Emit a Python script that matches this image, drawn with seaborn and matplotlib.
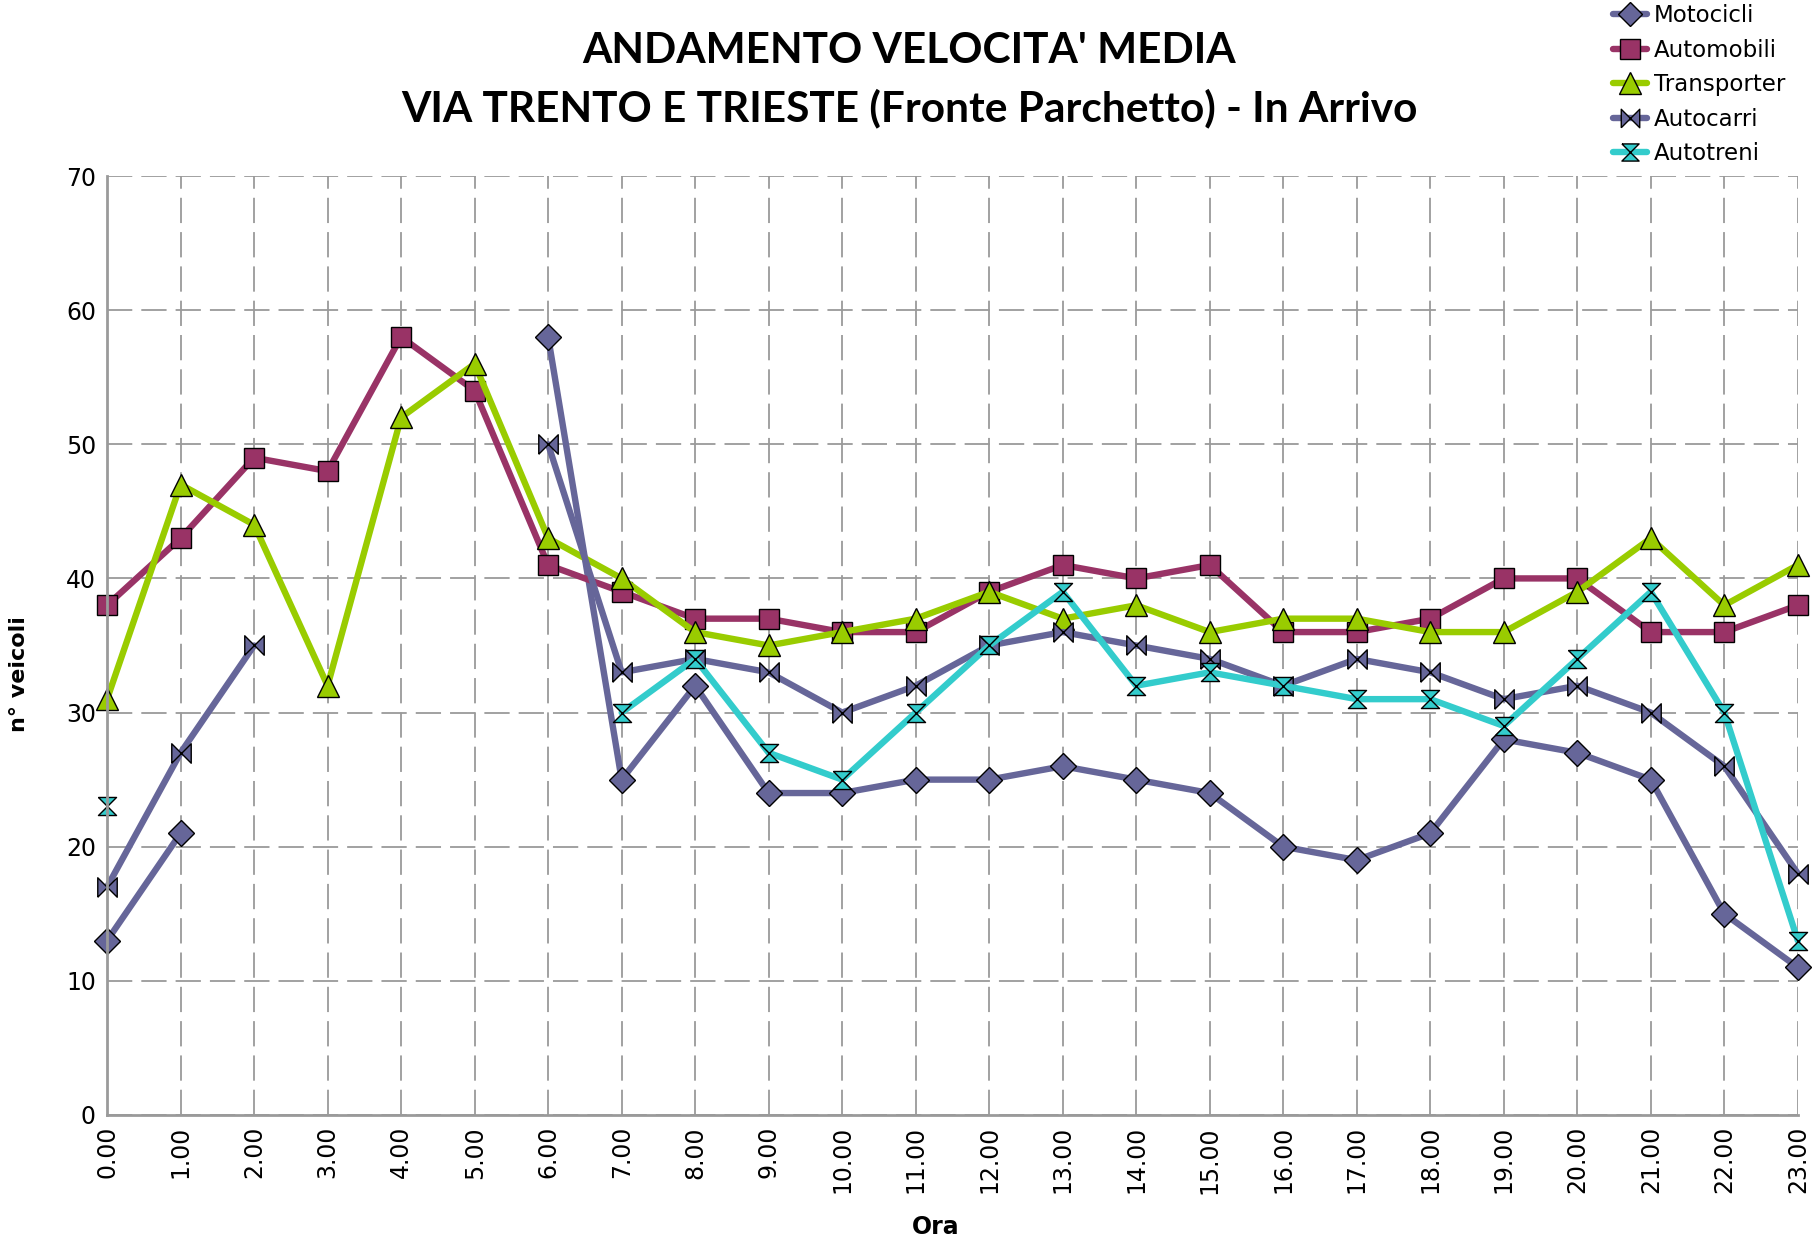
import numpy as np
import pandas as pd
import seaborn as sns
import matplotlib.pyplot as plt
from matplotlib.lines import Line2D

hours = list(range(24))
hour_labels = [f"{h}.00" for h in hours]

nan = np.nan
motocicli = [13, 21, nan, nan, nan, nan, 58, 25, 32, 24, 24, 25, 25, 26, 25, 24, 20, 19, 21, 28, 27, 25, 15, 11]
automobili = [38, 43, 49, 48, 58, 54, 41, 39, 37, 37, 36, 36, 39, 41, 40, 41, 36, 36, 37, 40, 40, 36, 36, 38]
transporter = [31, 47, 44, 32, 52, 56, 43, 40, 36, 35, 36, 37, 39, 37, 38, 36, 37, 37, 36, 36, 39, 43, 38, 41]
autocarri = [17, 27, 35, nan, nan, nan, 50, 33, 34, 33, 30, 32, 35, 36, 35, 34, 32, 34, 33, 31, 32, 30, 26, 18]
autotreni = [23, nan, nan, nan, nan, nan, nan, 30, 34, 27, 25, 30, 35, 39, 32, 33, 32, 31, 31, 29, 34, 39, 30, 13]

bowtie = [(-1, -1), (-1, 1), (1, -1), (1, 1), (-1, -1)]
hourglass = [(-1, 1), (1, 1), (-1, -1), (1, -1), (-1, 1)]

series = [
    ("Motocicli", motocicli, "#666699", "D", 13),
    ("Automobili", automobili, "#993366", "s", 15),
    ("Transporter", transporter, "#99CC00", "^", 16),
    ("Autocarri", autocarri, "#666699", bowtie, 14),
    ("Autotreni", autotreni, "#33CCCC", hourglass, 13),
]

sns.set_style("white")
plt.rcParams.update({"text.color": "black", "axes.labelcolor": "black",
                     "xtick.color": "black", "ytick.color": "black"})
fig = plt.figure(figsize=(18.18, 12.43), dpi=100)
ax = fig.add_axes([0.0589, 0.103, 0.930, 0.7554])

handles = []
for name, vals, color, marker, ms in series:
    df = pd.DataFrame({"ora": hours, "val": vals})
    # split into contiguous runs so gaps stay open
    run_id = df["val"].isna().cumsum()
    for _, seg in df.dropna().groupby(run_id[df["val"].notna()]):
        sns.lineplot(data=seg, x="ora", y="val", ax=ax, color=color, lw=4.6,
                     marker=marker, markersize=ms, markerfacecolor=color,
                     markeredgecolor="black", markeredgewidth=1.0, clip_on=False)
    handles.append(Line2D([], [], color=color, lw=4.6, marker=marker, markersize=ms * 0.95,
                          markerfacecolor=color, markeredgecolor="black", markeredgewidth=1.0))

ax.set_xlim(0, 23)
ax.set_ylim(0, 70)
ax.set_xticks(hours)
ax.set_xticklabels(hour_labels, rotation=90, fontsize=17)
ax.set_yticks(range(0, 71, 10))
ax.tick_params(axis="y", labelsize=17, length=0, pad=8)
ax.tick_params(axis="x", length=0, pad=8)

ax.grid(True, color="#9a9a9a", lw=1.3, linestyle=(0, (14, 5)))
for s in ["top", "right"]:
    ax.spines[s].set_visible(False)
for s in ["left", "bottom"]:
    ax.spines[s].set_color("#9a9a9a")
    ax.spines[s].set_linewidth(2)

ax.set_xlabel("Ora", fontsize=17, fontweight="bold")
ax.xaxis.set_label_coords(0.49, -0.106)
ax.set_ylabel("n° veicoli", fontsize=16, fontweight="bold")
ax.yaxis.set_label_coords(-0.046, 0.47)

fig.text(0.50, 0.959, "ANDAMENTO VELOCITA' MEDIA", ha="center", va="center",
         fontsize=30.5, fontweight="bold", family="Lato")
fig.text(0.50, 0.913, "VIA TRENTO E TRIESTE (Fronte Parchetto) - In Arrivo", ha="center", va="center",
         fontsize=30.5, fontweight="bold", family="Lato")

fig.legend(handles, [s[0] for s in series], loc="upper left", bbox_to_anchor=(0.882, 1.004),
           frameon=False, fontsize=16.5, handlelength=1.5, handletextpad=0.3, labelspacing=0.5,
           borderaxespad=0)

fig.savefig("out.png", dpi=100)
